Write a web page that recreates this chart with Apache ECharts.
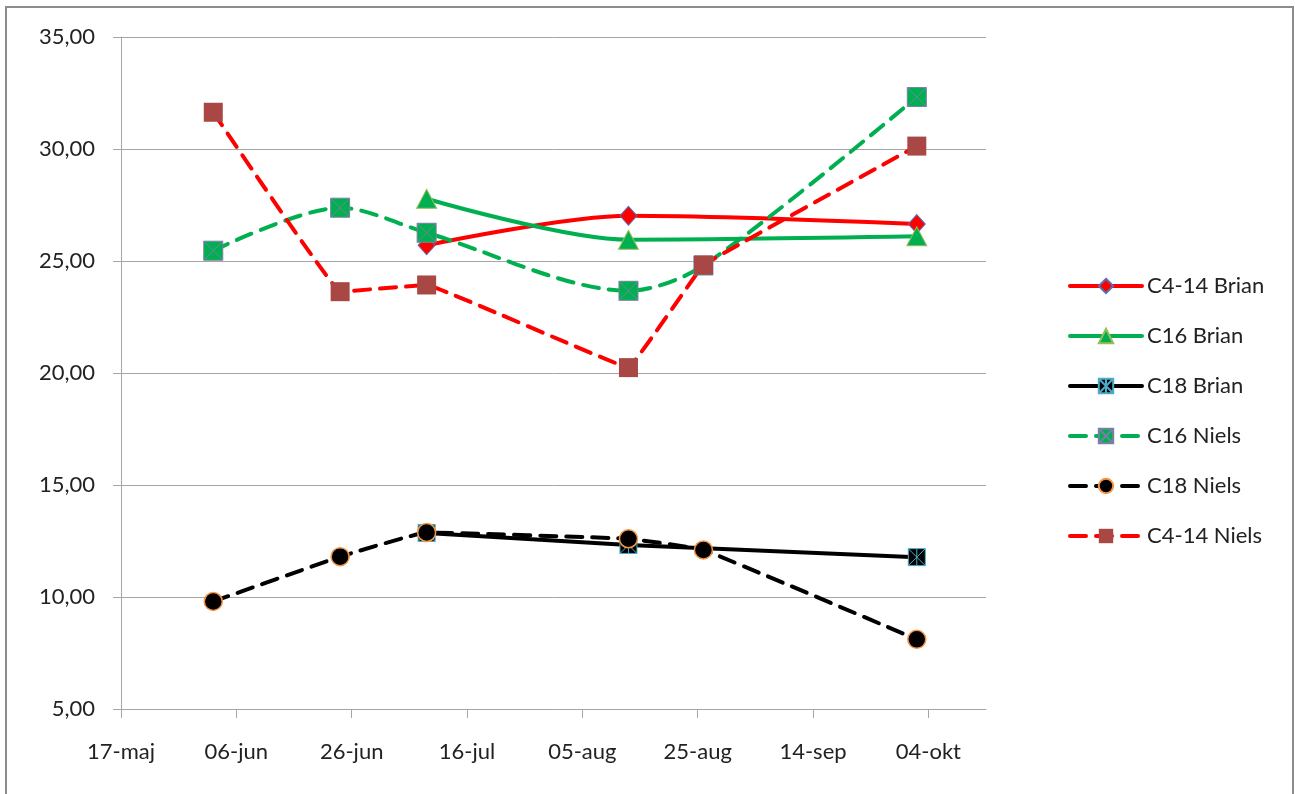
<!DOCTYPE html>
<html>
<head>
<meta charset="utf-8">
<title>C4-14 / C16 / C18</title>
<script src="https://cdn.jsdelivr.net/npm/echarts@6/dist/echarts.min.js"></script>
<style>
  html, body { margin: 0; padding: 0; background: #fff; overflow: hidden; }
  #frame {
    position: absolute; left: 5px; top: 6px; width: 1285px; height: 800px;
    border-left: 2px solid #8c8c8c; border-top: 2px solid #8c8c8c; border-right: 2px solid #8c8c8c;
  }
  #chart { position: absolute; left: 0; top: 0; width: 1295px; height: 794px; }
</style>
</head>
<body>
<div id="frame"></div>
<div id="chart"></div>
<script>
// Axis start date and the x tick labels (every 20 days)
const axisStart = '2010-05-17';
const xTickLabels = ['17-maj', '06-jun', '26-jun', '16-jul', '05-aug', '25-aug', '14-sep', '04-okt'];
const yTicks = [5, 10, 15, 20, 25, 30, 35];

// Sampling dates
const datesBrian = ['2010-07-09', '2010-08-13', '2010-10-02'];
const datesNiels = ['2010-06-02', '2010-06-24', '2010-07-09', '2010-08-13', '2010-08-26', '2010-10-02'];

// Measured values
const c414Brian = [25.70, 27.02, 26.65];
const c16Brian = [27.78, 25.95, 26.10];
const c18Brian = [12.86, 12.32, 11.78];
const c16Niels = [25.46, 27.38, 26.26, 23.67, 24.80, 32.32];
const c18Niels = [9.80, 11.80, 12.88, 12.60, 12.10, 8.11];
const c414Niels = [31.64, 23.63, 23.93, 20.24, 24.82, 30.13];

const DAY = 86400000;
function dayOffset(d) {
  return Math.round((Date.parse(d + 'T00:00:00Z') - Date.parse(axisStart + 'T00:00:00Z')) / DAY);
}
function pairs(dates, values) {
  return dates.map((d, i) => [dayOffset(d), values[i]]);
}

const TICK_STEP = 20;
const xTickValues = xTickLabels.map((_, i) => i * TICK_STEP);

const FONT = 'Lato, "Open Sans", sans-serif';
const TEXT = '#222222';
const GRID = '#a6a6a6';

const SQUARE_X = 'path://M0,0H10V10H0Z M0,0L10,10 M10,0L0,10';
const SQUARE_STAR = 'path://M0,0H10V10H0Z M0,0L10,10 M10,0L0,10 M5,0V10';
const DASH = [16, 10];

function line(name, dates, values, color, smooth, dashed, symbol, size, fill, border, bw) {
  return {
    name, type: 'line', smooth,
    data: pairs(dates, values),
    symbol, symbolSize: size, showAllSymbol: true,
    lineStyle: { color, width: 4, cap: 'round', join: 'round', type: dashed ? DASH : 'solid' },
    itemStyle: { color: fill, borderColor: border, borderWidth: bw },
    emphasis: { disabled: true }
  };
}

const series = [
  line('C4-14 Brian', datesBrian, c414Brian, '#ff0000', 0.3, false, 'diamond', [17, 19], '#ff0000', '#5a6fb0', 1),
  line('C16 Brian', datesBrian, c16Brian, '#00b050', 0.3, false, 'triangle', [20, 19], '#00b050', '#9bbb59', 1),
  line('C18 Brian', datesBrian, c18Brian, '#000000', 0, false, SQUARE_STAR, 17, '#000000', '#4bacc6', 1),
  line('C16 Niels', datesNiels, c16Niels, '#00b050', 0.3, true, SQUARE_X, 19, '#00b050', '#7a7fa8', 1),
  line('C18 Niels', datesNiels, c18Niels, '#000000', 0.08, true, 'circle', 18, '#000000', '#f79646', 1.5),
  line('C4-14 Niels', datesNiels, c414Niels, '#ff0000', 0.04, true, 'rect', 19, '#a94744', '#a94744', 0)
];

const chart = echarts.init(document.getElementById('chart'), null, { renderer: 'canvas' });
chart.setOption({
  animation: false,
  backgroundColor: 'transparent',
  textStyle: { fontFamily: FONT },
  grid: { left: 121, right: 309, top: 37, bottom: 85, containLabel: false },
  xAxis: {
    type: 'value',
    min: 0, max: 150, interval: TICK_STEP,
    axisLine: { show: true, lineStyle: { color: GRID, width: 1 } },
    axisTick: { show: true, length: 9, lineStyle: { color: GRID }, customValues: xTickValues },
    axisLabel: {
      customValues: xTickValues,
      formatter: v => xTickLabels[Math.round(v / TICK_STEP)] || '',
      color: TEXT, fontSize: 22, fontFamily: FONT, margin: 32
    },
    splitLine: { show: false }
  },
  yAxis: {
    type: 'value',
    min: yTicks[0], max: yTicks[yTicks.length - 1], interval: 5,
    axisLine: { show: true, lineStyle: { color: GRID, width: 1 } },
    axisTick: { show: true, length: 8, lineStyle: { color: GRID } },
    axisLabel: {
      formatter: v => v.toFixed(2).replace('.', ','),
      color: TEXT, fontSize: 22, fontFamily: FONT, margin: 26
    },
    splitLine: { show: true, lineStyle: { color: GRID, width: 1 } }
  },
  legend: {
    orient: 'vertical',
    left: 1063, top: 270,
    itemWidth: 72, itemHeight: 18, itemGap: 28,
    lineStyle: { width: 4 },
    textStyle: { color: TEXT, fontSize: 22, fontFamily: FONT },
    selectedMode: false,
    data: series.map(s => s.name)
  },
  series
});
</script>
</body>
</html>
